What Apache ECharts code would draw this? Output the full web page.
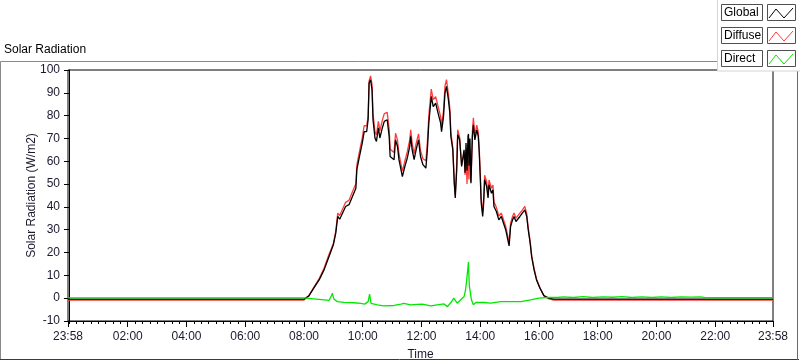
<!DOCTYPE html>
<html>
<head>
<meta charset="utf-8">
<script src="https://cdn.jsdelivr.net/npm/echarts@6/dist/echarts.min.js"></script>
<style>
  html, body { margin: 0; padding: 0; background: #fff; }
  #chart { width: 800px; height: 361px; }
</style>
</head>
<body>
<div id="chart"></div>
<script>
// minutes from midnight; -2 = 23:58 of the day before
const dayTimes = [-2, 480, 485, 490, 500, 511, 521, 531, 540, 545,
  549, 553, 565, 572, 579, 586, 588, 592, 599, 603,
  608, 611, 613, 616, 619, 621, 625, 628, 632, 635,
  637, 640, 644, 650, 654, 656, 664, 667, 671, 674,
  681, 686, 691, 696, 698, 701, 705, 709, 714, 718,
  723, 729, 732, 735, 740, 744, 749, 754, 759, 761,
  765, 768, 771, 775, 778, 780, 784, 787, 789, 792,
  794, 798, 802, 807, 809, 811, 813, 815, 816, 817,
  819, 821, 824, 826, 829, 833, 836, 838, 840, 842,
  845, 847, 849, 853, 856, 858, 863, 866, 868, 873,
  878, 883, 887, 892, 895, 899, 902, 906, 909, 913,
  917, 921, 926, 931, 935, 938, 942, 945, 950, 955,
  962, 970, 980, 990, 1438];

const globalValues = [-0.4, -0.4, 0.3, 1.0, 4.4, 8.0, 12.4, 18.2, 23.4, 28.6,
  35.8, 34.6, 40.2, 41.0, 44.6, 48.2, 56.3, 60.7, 68.0, 73.0,
  73.0, 78.2, 94.3, 95.7, 91.4, 78.2, 70.2, 68.7, 74.6, 70.2,
  69.4, 74.6, 77.5, 78.2, 70.9, 62.1, 60.7, 69.4, 66.5, 60.7,
  53.3, 57.7, 61.4, 66.5, 70.9, 65.0, 60.7, 65.0, 69.4, 62.1,
  58.5, 57.0, 65.0, 76.8, 88.4, 84.0, 85.5, 81.0, 76.8, 73.0,
  79.6, 89.9, 92.8, 87.0, 81.0, 70.9, 65.0, 50.4, 43.9, 56.3,
  71.6, 69.4, 57.7, 65.0, 55.0, 68.0, 56.0, 71.0, 72.0, 58.0,
  70.0, 50.4, 70.9, 76.0, 69.4, 73.8, 70.9, 63.6, 53.3, 41.7,
  35.8, 41.7, 51.9, 49.0, 43.9, 49.7, 46.0, 47.5, 40.2, 38.0,
  34.3, 35.8, 35.1, 30.0, 27.0, 22.9, 31.4, 34.3, 35.8, 33.6,
  33.6, 35.8, 37.3, 38.7, 35.8, 30.0, 24.1, 18.2, 12.4, 8.0,
  4.4, 1.1, 0.0, -0.4, -0.4];

const diffuseValues = [-0.8, -0.8, 0.2, 1.1, 4.7, 8.6, 13.1, 19.2, 24.0, 29.5,
  37.3, 36.2, 42.0, 42.9, 46.6, 50.2, 58.3, 62.9, 70.3, 75.6,
  75.5, 79.7, 95.2, 97.4, 93.7, 80.8, 73.0, 71.6, 77.5, 73.3,
  72.5, 77.9, 80.9, 81.4, 74.1, 65.3, 63.9, 72.3, 69.3, 63.3,
  55.7, 60.0, 64.2, 69.4, 73.8, 67.8, 63.4, 67.7, 72.0, 64.7,
  61.1, 60.2, 68.4, 80.2, 91.6, 87.0, 88.3, 83.9, 79.7, 75.8,
  82.1, 93.0, 95.8, 89.5, 83.0, 72.8, 66.0, 50.8, 45.2, 58.5,
  73.8, 70.5, 58.4, 64.3, 54.0, 64.0, 50.0, 63.0, 56.0, 52.0,
  65.0, 51.0, 73.0, 79.0, 71.5, 75.8, 72.8, 65.5, 55.2, 43.6,
  37.7, 43.6, 53.9, 51.0, 46.0, 51.8, 48.2, 49.6, 42.2, 39.8,
  36.0, 37.3, 36.6, 31.5, 28.5, 24.4, 32.9, 35.8, 37.3, 35.1,
  35.1, 37.3, 38.6, 40.2, 37.0, 31.0, 24.9, 18.9, 13.0, 8.4,
  4.6, 1.1, -0.3, -0.8, -0.8];

const directTimes = [-2, 480, 500, 521, 531, 536, 538, 541, 548, 562,
  582, 596, 604, 611, 614, 617, 630, 643, 664, 678,
  684, 698, 711, 722, 739, 752, 766, 773, 780, 786,
  793, 800, 807, 810, 812, 815, 816, 817, 818, 822,
  826, 831, 848, 861, 882, 902, 923, 943, 960, 977,
  998, 1010, 1030, 1050, 1070, 1090, 1110, 1130, 1150, 1170,
  1190, 1210, 1230, 1250, 1270, 1290, 1300, 1438];

const directValues = [0.1, 0.1, -0.3, -0.7, -1.0, 1.0, 2.2, -0.4, -1.5, -1.8,
  -2.0, -2.3, -2.6, -1.5, 1.8, -2.3, -2.9, -3.4, -3.2, -2.6,
  -2.3, -2.9, -2.7, -2.6, -3.4, -2.9, -2.5, -3.7, -1.9, 0.0,
  -2.2, -0.7, 0.7, 3.6, 7.3, 8.0, 15.8, 9.0, 5.1, -0.7,
  -2.9, -1.9, -1.9, -2.2, -1.5, -1.5, -1.5, -0.7, 0.0, 0.3,
  0.3, 0.6, 0.3, 0.7, 0.3, 0.6, 0.4, 0.7, 0.3, 0.6,
  0.3, 0.6, 0.3, 0.6, 0.5, 0.6, 0.2, 0.2];

const xTickValues = [-2, 120, 240, 360, 480, 600, 720, 840, 960, 1080, 1200, 1320, 1438];
const yTicks = { min: -10, max: 100, step: 10 };

const FONT = "'Liberation Sans', Arial, sans-serif";
const TEXT = '#1a1a2e';
const COLORS = { global: '#000000', diffuse: '#ff3b3b', direct: '#00e800' };

// 每15分钟一个小刻度
const minorTicks = [];
for (let m = 0; m < 1438; m += 15) minorTicks.push(m);

function fmtTime(v) {
  if (v < 0 || v >= 1438) return '23:58';
  const h = Math.floor(v / 60), m = v % 60;
  return String(h).padStart(2, '0') + ':' + String(m).padStart(2, '0');
}

const zip = (ts, vs) => ts.map((t, i) => [t, vs[i]]);

const legendItems = [
  { name: 'Global', color: COLORS.global },
  { name: 'Diffuse', color: COLORS.diffuse },
  { name: 'Direct', color: COLORS.direct },
];

const legendGraphics = [
  { type: 'rect', z: 100, shape: { x: 717.5, y: -1, width: 84, height: 72 },
    style: { fill: '#fff', stroke: '#d4d4d4', lineWidth: 1 } },
];
legendItems.forEach((it, i) => {
  const y0 = 4 + 23 * i;
  legendGraphics.push(
    { type: 'rect', z: 101, shape: { x: 721.5, y: y0 + 0.5, width: 41, height: 16 },
      style: { fill: '#fff', stroke: '#505050', lineWidth: 1 } },
    { type: 'text', z: 102, x: 724, y: y0 + 9,
      style: { text: it.name, fill: '#000', font: '12px ' + FONT, verticalAlign: 'middle' } },
    { type: 'rect', z: 101, shape: { x: 767.5, y: y0 + 0.5, width: 28, height: 16 },
      style: { fill: '#fff', stroke: '#505050', lineWidth: 1 } },
    { type: 'polyline', z: 102,
      shape: { points: [[769, y0 + 14], [776, y0 + 5], [784, y0 + 14], [793, y0 + 4]] },
      style: { stroke: it.color, lineWidth: 1, fill: null } }
  );
});

const chart = echarts.init(document.getElementById('chart'), null, { renderer: 'canvas' });

chart.setOption({
  animation: false,
  backgroundColor: '#fff',
  textStyle: { fontFamily: FONT },
  grid: {
    left: 68, top: 70, right: 27, bottom: 40,
    outerBoundsMode: 'none',
    show: true, borderColor: '#000', borderWidth: 1, backgroundColor: '#fff',
  },
  xAxis: [
    {
      type: 'value', min: -2, max: 1438,
      name: 'Time', nameLocation: 'middle', nameGap: 28, nameMoveOverlap: false,
      nameTextStyle: { color: TEXT, fontSize: 12, fontFamily: FONT },
      axisLine: { show: true, onZero: false, lineStyle: { color: '#000', width: 1 } },
      axisTick: { show: true, length: 6, customValues: xTickValues, lineStyle: { color: '#000' } },
      axisLabel: { color: TEXT, fontSize: 12, fontFamily: FONT, margin: 10,
        customValues: xTickValues, formatter: fmtTime },
      splitLine: { show: false },
    },
    {
      // 小刻度，只画刻度线
      type: 'value', min: -2, max: 1438, position: 'bottom', gridIndex: 0,
      axisLine: { show: false, onZero: false },
      axisTick: { show: true, length: 3, customValues: minorTicks, lineStyle: { color: '#000' } },
      axisLabel: { show: false },
      splitLine: { show: false },
    },
  ],
  yAxis: {
    type: 'value', min: yTicks.min, max: yTicks.max, interval: yTicks.step,
    name: 'Solar Radiation (W/m2)', nameLocation: 'middle', nameGap: 30, nameRotate: 90,
    nameMoveOverlap: false,
    nameTextStyle: { color: TEXT, fontSize: 12, fontFamily: FONT },
    axisLine: { show: true, lineStyle: { color: '#000', width: 1 } },
    axisTick: { show: true, length: 5, lineStyle: { color: '#000' } },
    axisLabel: { color: TEXT, fontSize: 12, fontFamily: FONT, margin: 8 },
    splitLine: { show: false },
  },
  series: [
    { name: 'Diffuse', type: 'line', xAxisIndex: 0, data: zip(dayTimes, diffuseValues),
      showSymbol: false, lineStyle: { color: COLORS.diffuse, width: 1.3 }, z: 2 },
    { name: 'Global', type: 'line', xAxisIndex: 0, data: zip(dayTimes, globalValues),
      showSymbol: false, lineStyle: { color: COLORS.global, width: 1.3 }, z: 3 },
    { name: 'Direct', type: 'line', xAxisIndex: 0, data: zip(directTimes, directValues),
      showSymbol: false, lineStyle: { color: COLORS.direct, width: 1.3 }, z: 4 },
  ],
  graphic: [
    { type: 'line', z: 50, shape: { x1: 0.5, y1: 61.5, x2: 717, y2: 61.5 }, style: { stroke: '#8a8a8a', lineWidth: 1 } },
    { type: 'line', z: 50, shape: { x1: 0.5, y1: 61.5, x2: 0.5, y2: 360 }, style: { stroke: '#8a8a8a', lineWidth: 1 } },
    { type: 'line', z: 50, shape: { x1: 0, y1: 359.5, x2: 799, y2: 359.5 }, style: { stroke: '#3a3a3a', lineWidth: 1 } },
    { type: 'line', z: 50, shape: { x1: 797.5, y1: 61, x2: 797.5, y2: 360 }, style: { stroke: '#6a6a6a', lineWidth: 1 } },
    { type: 'text', z: 50, x: 4, y: 50,
      style: { text: 'Solar Radiation', fill: '#000', font: '12px ' + FONT, verticalAlign: 'middle' } },
    ...legendGraphics,
  ],
});
</script>
</body>
</html>
